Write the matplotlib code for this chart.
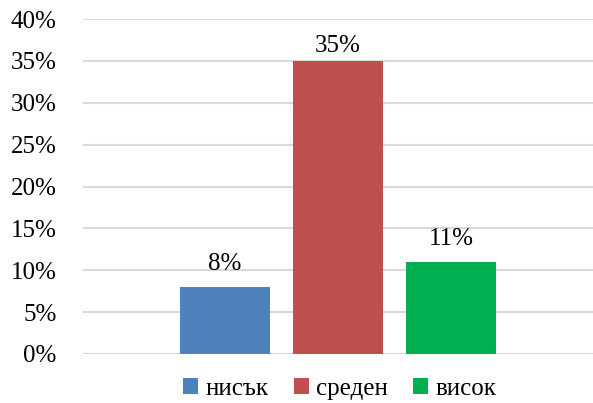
import matplotlib
matplotlib.use('Agg')
import matplotlib.pyplot as plt
from matplotlib.ticker import PercentFormatter

plt.rcParams['font.family'] = ['Liberation Serif', 'DejaVu Serif']

# Данни
labels = ['нисък', 'среден', 'висок']
values = [0.08, 0.35, 0.11]
colors = ['#4F81BD', '#C0504D', '#00B050']
yticks = [0, 0.05, 0.10, 0.15, 0.20, 0.25, 0.30, 0.35, 0.40]

fig = plt.figure(figsize=(5.93, 4.03), dpi=100)
ax = fig.add_axes([83 / 593, 49 / 403, 510 / 593, 335 / 403])

x = list(range(len(values)))
bars = ax.bar(x, values, width=0.79, color=colors, label=labels, zorder=3)

ax.set_xlim(-1.255, 3.255)
ax.set_ylim(0, 0.40)
ax.set_yticks(yticks)
ax.yaxis.set_major_formatter(PercentFormatter(1.0, decimals=0))
ax.set_xticks([])
ax.tick_params(axis='y', length=0, pad=19, labelsize=18)
ax.grid(axis='y', color='#D9D9D9', linewidth=1.5, zorder=0)
for s in ax.spines.values():
    s.set_visible(False)

# етикети над стълбовете
for xi, v in zip(x, values):
    ax.text(xi, min(v + 0.02, 0.36), f'{v * 100:.0f}%', ha='center', va='baseline',
            fontsize=18, zorder=4)

fig.legend(handles=bars, labels=labels, loc='center', ncol=3,
           bbox_to_anchor=(340 / 593, 1 - 389 / 403), frameon=False,
           fontsize=18, handlelength=0.6, handleheight=0.6,
           handletextpad=0.3, columnspacing=1.0, borderpad=0)

fig.savefig('out.png', dpi=100)
